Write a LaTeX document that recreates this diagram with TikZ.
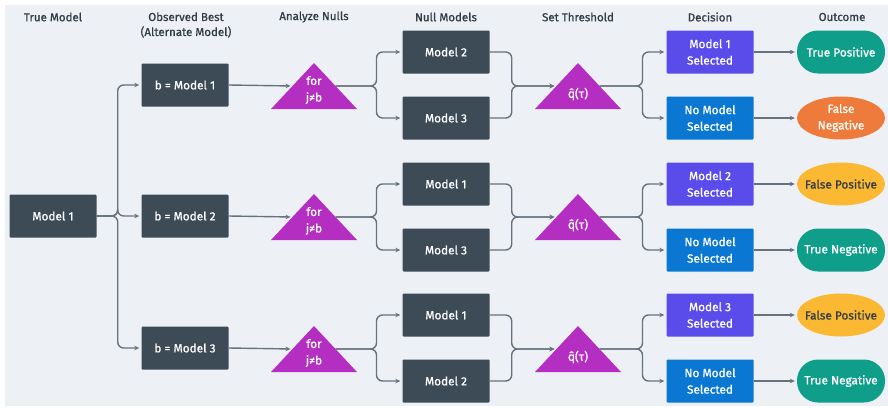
\documentclass[tikz,border=0pt]{standalone}
\usepackage{fontspec}
\setmainfont{Fira Sans}[FakeBold=0.9]
\usetikzlibrary{arrows.meta,shapes.geometric,calc}
\definecolor{bgc}{HTML}{EDF1F5}
\definecolor{slate}{HTML}{3D4B57}
\definecolor{magen}{HTML}{B42FC1}
\definecolor{purp}{HTML}{5A4CEB}
\definecolor{bluec}{HTML}{0A78D2}
\definecolor{tealc}{HTML}{0F9E89}
\definecolor{orng}{HTML}{EE7B3B}
\definecolor{yell}{HTML}{FBB832}
\definecolor{linec}{HTML}{66737E}
\definecolor{headc}{HTML}{333D45}
\tikzset{
  x=1pt, y=-1pt,
  hdr/.style={font=\fontsize{11.5}{15}\selectfont, text=headc, align=center},
  box/.style={rectangle, minimum width=87pt, minimum height=43pt, inner sep=1pt,
    fill=slate, text=white, rounded corners=1pt, align=center,
    font=\fontsize{11.8}{16.5}\selectfont},
  decA/.style={box, fill=purp},
  decB/.style={box, fill=bluec},
  stadium/.style={rectangle, rounded corners=21pt, minimum width=88pt, minimum height=43pt,
    inner sep=1pt, fill=tealc, text=white, align=center, font=\fontsize{11.8}{16.5}\selectfont},
  oval/.style={ellipse, minimum width=88pt, minimum height=43pt, inner xsep=-8pt, inner ysep=-4pt,
    align=center, font=\fontsize{11.8}{16.5}\selectfont},
  trilabel/.style={text=white, align=center, inner sep=0pt, font=\fontsize{11.8}{16.5}\selectfont},
  conn/.style={draw=linec, line width=1.4pt, rounded corners=6pt,
    -{Stealth[length=5pt,width=4.5pt]}, shorten >=2pt},
}
% filled triangle with its apex up, centred on #1 (width 86, height 46)
\newcommand{\tri}[1]{\fill[magen] ($(#1)+(0,-23)$) -- ($(#1)+(43,23)$) -- ($(#1)+(-43,23)$) -- cycle;}
\begin{document}
\begin{tikzpicture}
\useasboundingbox (0,0) rectangle (888,407);
\fill[white] (0,0) rectangle (888,407);
\fill[bgc] (5,5) rectangle (888,406);

% column headings
\node[hdr] (h1) at (53,17) {True Model};
\node[hdr] (h2) at (186,25) {Observed Best\\(Alternate Model)};
\node[hdr] (h3) at (314,17) {Analyze Nulls};
\node[hdr] (h4) at (446,17) {Null Models};
\node[hdr] (h5) at (578,17) {Set Threshold};
\node[hdr] (h6) at (710,17) {Decision};
\node[hdr] (h7) at (842,17) {Outcome};

% true model
\node[box] (m1) at (53,216) {Model 1};

% observed best
\node[box] (b1) at (185,85) {b = Model 1};
\node[box] (b2) at (185,216) {b = Model 2};
\node[box] (b3) at (185,348) {b = Model 3};

% analyze-nulls triangles
\foreach \i/\y in {1/86,2/217,3/349}{
  \tri{314,\y}
  \coordinate (a\i w) at (292.5,\y);
  \coordinate (a\i e) at (335.5,\y);
  \node[trilabel] (a\i) at (314,\y+4) {for\\j≠b};
}

% null models
\node[box] (n1a) at (446,52) {Model 2};
\node[box] (n1b) at (446,118) {Model 3};
\node[box] (n2a) at (446,184) {Model 1};
\node[box] (n2b) at (446,250) {Model 3};
\node[box] (n3a) at (446,315) {Model 1};
\node[box] (n3b) at (446,381) {Model 2};

% threshold triangles
\foreach \i/\y in {1/86,2/217,3/349}{
  \tri{578,\y}
  \coordinate (q\i w) at (556.5,\y);
  \coordinate (q\i e) at (599.5,\y);
  \node[trilabel] (q\i) at (578,\y+8) {q̂(τ)};
}

% decisions
\node[decA] (d1a) at (710,52) {Model 1\\Selected};
\node[decB] (d1b) at (710,118) {No Model\\Selected};
\node[decA] (d2a) at (710,184) {Model 2\\Selected};
\node[decB] (d2b) at (710,250) {No Model\\Selected};
\node[decA] (d3a) at (710,315) {Model 3\\Selected};
\node[decB] (d3b) at (710,381) {No Model\\Selected};

% outcomes
\node[stadium] (o1a) at (841,52) {True Positive};
\node[oval, fill=orng, text=white] (o1b) at (841,118) {False\\Negative};
\node[oval, fill=yell, text=headc] (o2a) at (841,184) {False Positive};
\node[stadium] (o2b) at (841,250) {True Negative};
\node[oval, fill=yell, text=headc] (o3a) at (841,315) {False Positive};
\node[stadium] (o3b) at (841,381) {True Negative};

% connectors
\foreach \i in {1,2,3}{
  \draw[conn] (m1.east) -- ++(21,0) |- (b\i.west);
  \draw[conn] (b\i.east) -- (a\i w);
  \draw[conn] (a\i e) -- ++(41,0) |- (n\i a.west);
  \draw[conn] (a\i e) -- ++(41,0) |- (n\i b.west);
  \draw[conn] (n\i a.east) -- ++(22,0) |- (q\i w);
  \draw[conn] (n\i b.east) -- ++(22,0) |- (q\i w);
  \draw[conn] (q\i e) -- ++(43,0) |- (d\i a.west);
  \draw[conn] (q\i e) -- ++(43,0) |- (d\i b.west);
  \draw[conn] (d\i a.east) -- (o\i a.west);
  \draw[conn] (d\i b.east) -- (o\i b.west);
}
\end{tikzpicture}
\end{document}
